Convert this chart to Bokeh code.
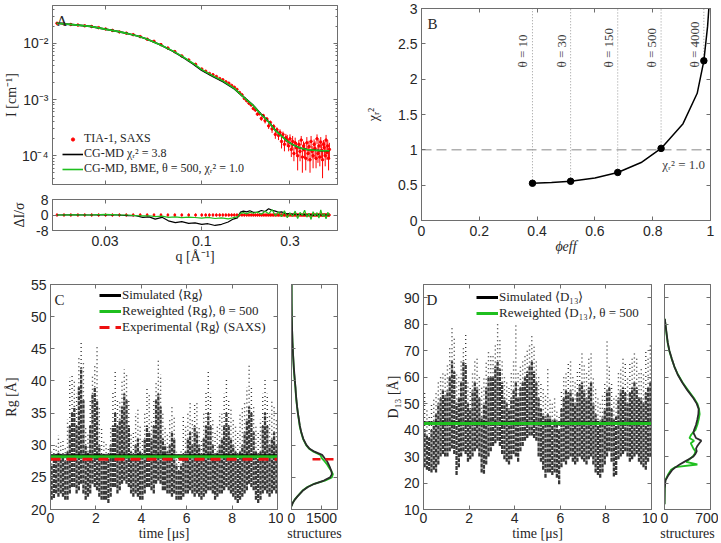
import numpy as np
from bokeh.plotting import figure
from bokeh.models import (FixedTicker, LinearAxis, LogAxis, Range1d, Label, Legend,
                          LegendItem, CustomJSTickFormatter, CustomLabelingPolicy)
from bokeh.layouts import column, row
from bokeh.embed import file_html
from bokeh.resources import INLINE
from bokeh.core.properties import value

# ---------------- Panel A: SAXS data and CG-MD models ----------------
saxs_q = [0.0165, 0.018, 0.0196, 0.0214, 0.0233, 0.0254, 0.0277, 0.0302, 0.0329, 0.0359,
          0.0391, 0.0426, 0.0465, 0.0507, 0.0552, 0.0602, 0.0656, 0.0715, 0.078, 0.085,
          0.0926, 0.1,
          0.105, 0.11, 0.115, 0.12, 0.125, 0.13, 0.135, 0.14, 0.145, 0.15,
          0.155, 0.16, 0.165, 0.17, 0.175, 0.18, 0.185, 0.19, 0.195, 0.2,
          0.205, 0.21, 0.215, 0.22, 0.225, 0.23, 0.235, 0.24, 0.245, 0.25,
          0.255, 0.26, 0.265, 0.27, 0.275, 0.28, 0.285, 0.29, 0.295, 0.30,
          0.305, 0.31, 0.315, 0.32, 0.325, 0.33, 0.335, 0.34, 0.345, 0.35,
          0.355, 0.36, 0.365, 0.37, 0.375, 0.38, 0.385, 0.39, 0.395, 0.40,
          0.405, 0.41, 0.415, 0.42, 0.425, 0.43, 0.435, 0.44, 0.445, 0.45,
          0.455, 0.46, 0.465, 0.47, 0.475, 0.48, 0.485, 0.49]
# intensities in units of 1e-4 cm^-1
saxs_I_e4 = [226, 222, 215, 210, 204, 198, 189, 179, 169, 159,
             151, 142, 131, 118, 108, 94.5, 82, 71, 59.5, 50.5,
             42.2, 34.8,
             31.8, 29.0, 27.5, 25.6, 23.5, 22.4, 20.6, 19.5, 17.8, 16.5,
             15.1, 13.3, 12.1, 10.4, 9.5, 8.6, 8.0, 6.9, 6.5, 5.5,
             5.6, 4.6, 5.2, 4.2, 4.5, 3.4, 3.9, 3.0, 3.3, 2.4,
             2.9, 2.3, 2.6, 1.8, 2.4, 1.6, 2.1, 1.9, 1.5, 2.0,
             1.3, 1.8, 1.1, 1.7, 1.4, 1.0, 1.6, 1.2, 1.9, 0.95,
             1.5, 1.3, 0.9, 1.7, 1.1, 1.45, 0.85, 1.8, 1.2, 1.0,
             1.6, 1.35, 0.9, 2.0, 1.1, 1.5, 0.95, 1.75, 1.25, 0.85,
             1.6, 1.4, 1.0, 1.9, 1.15, 1.5, 0.9, 1.3]
saxs_err_e4 = [2.3, 2.2, 2.2, 2.1, 2.0, 2.0, 1.9, 1.8, 1.7, 1.6,
               1.5, 1.4, 1.3, 1.2, 1.1, 1.0, 0.9, 0.8, 0.7, 0.6,
               0.55, 0.5,
               0.5, 0.5, 0.5, 0.5, 0.45, 0.45, 0.45, 0.45, 0.4, 0.4,
               0.4, 0.4, 0.4, 0.4, 0.4, 0.4, 0.4, 0.4, 0.4, 0.4,
               0.35, 0.4, 0.3, 0.45, 0.35, 0.4, 0.3, 0.45, 0.35, 0.4,
               0.3, 0.4, 0.35, 0.45, 0.3, 0.4, 0.35, 0.45, 0.3, 0.4,
               0.35, 0.45, 0.3, 0.4, 0.35, 0.45, 0.3, 0.4, 0.35, 0.45,
               0.3, 0.4, 0.35, 0.45, 0.3, 0.4, 0.35, 0.45, 0.3, 0.4,
               0.35, 0.45, 0.3, 0.4, 0.35, 0.45, 0.3, 0.4, 0.35, 0.45,
               0.3, 0.4, 0.35, 0.45, 0.3, 0.4, 0.35, 0.4]
model_q = [0.0164, 0.02, 0.025, 0.03, 0.035, 0.04, 0.045, 0.05, 0.06, 0.07,
           0.08, 0.09, 0.1, 0.115, 0.13, 0.15, 0.17, 0.19, 0.21, 0.23,
           0.25, 0.27, 0.29, 0.31, 0.34, 0.37, 0.4, 0.45, 0.49]
model_bme_I = [0.02265, 0.02138, 0.01995, 0.01778, 0.01622, 0.01479, 0.01349, 0.01202, 0.00933, 0.00724,
               0.00562, 0.00437, 0.00339, 0.00263, 0.00214, 0.00158, 0.00107, 0.000776, 0.000537, 0.000398,
               0.000282, 0.000224, 0.000182, 0.000158, 0.000138, 0.000129, 0.000126, 0.000123, 0.000123]
model_cgmd_I = [0.02265, 0.02138, 0.01995, 0.01778, 0.01622, 0.01479, 0.01347, 0.01198, 0.00927, 0.00716,
                0.00552, 0.00427, 0.00330, 0.00256, 0.00208, 0.00155, 0.00108, 0.000785, 0.000543, 0.000402,
                0.000284, 0.000225, 0.000182, 0.000158, 0.000138, 0.000129, 0.000126, 0.000123, 0.000123]
res_q = [0.0165, 0.02, 0.025, 0.03, 0.035, 0.04, 0.044, 0.048, 0.052, 0.056,
         0.061, 0.066, 0.072, 0.078, 0.085, 0.092, 0.1, 0.108, 0.118, 0.128,
         0.139, 0.148, 0.156, 0.162, 0.168, 0.175, 0.182, 0.19, 0.2, 0.21,
         0.22, 0.23, 0.24, 0.25, 0.26, 0.27, 0.28, 0.29, 0.30, 0.31,
         0.32, 0.33, 0.34, 0.35, 0.36, 0.37, 0.38, 0.39, 0.40, 0.41,
         0.42, 0.43, 0.44, 0.45, 0.46, 0.47, 0.48, 0.49]
res_cgmd = [0, 0.1, 0, 0.2, 0, -0.3, -0.4, -1.2, -1.0, -2.1,
            -1.2, -3.0, -3.9, -3.4, -4.3, -4.1, -4.8, -4.5, -5.4, -4.8,
            -3.6, -2.1, -1.5, 1.5, 2.0, 1.6, 2.2, 1.4, 1.4, 2.3,
            1.8, 3.2, 2.4, 2.0, 1.4, 1.6, 1.0, 0.6, 0.8, 0.3,
            0.5, 0.2, 0.4, 0.0, 0.3, -0.2, 0.4, 0.1, -0.3, 0.2,
            -0.1, 0.3, 0.0, -0.2, 0.2, -0.1, 0.1, 0.0]
res_bme = [0, 0.1, 0, 0.3, 0.1, 0, -0.3, -0.5, -0.4, -0.8,
           -0.6, -1.2, -1.0, -1.4, -1.1, -1.3, -1.6, -1.2, -1.8, -1.5,
           -2.0, -1.4, -1.0, 0.8, 1.2, 0.6, 1.4, 0.9, 1.5, 0.4,
           1.9, 0.6, 2.8, -0.4, 1.6, -0.9, 2.2, -1.4, 1.1, -0.6,
           2.0, -1.8, 1.3, -0.2, 2.5, -1.1, 0.9, -2.3, 1.7, -0.5,
           1.2, -1.6, 2.6, -0.8, 0.7, -2.0, 1.4, -0.3]

# ---------------- Panel B: chi2 vs phi_eff ----------------
theta_values = [10, 30, 150, 500, 4000]
phi_eff_pts = [0.384, 0.516, 0.679, 0.829, 0.977]
chi2_pts = [0.527, 0.555, 0.68, 1.02, 2.26]
phi_eff_curve = [0.384, 0.45, 0.516, 0.6, 0.679, 0.76, 0.829, 0.905, 0.954, 0.977, 0.99, 0.996]
chi2_curve = [0.527, 0.538, 0.555, 0.6, 0.68, 0.82, 1.02, 1.37, 1.80, 2.26, 2.75, 3.1]
chi2_target = 1.0

# ---------------- Panel C: Rg time series (0.1 us bins) ----------------
t_bins = [round(0.05 + 0.1 * i, 2) for i in range(100)]
rg_low = [21.5, 21.8, 22.5, 22, 22.5, 22, 21.5, 21.5, 22.5, 23.5,
          23.5, 22.5, 23, 24, 22.5, 21.5, 22, 22.5, 24, 23.5,
          23, 22, 21.5, 21.5, 21.5, 21, 22, 23.5, 23.5, 22.5,
          23, 24, 24.5, 24, 23.5, 22.5, 22, 22.5, 22, 21.5,
          21.5, 22.5, 23.5, 23.5, 23, 22.5, 24, 24.5, 24, 23,
          23, 22.5, 22.5, 22, 22.5, 21.5, 21.5, 21.5, 22, 22.5,
          22.5, 23, 22.5, 22, 22.5, 22, 21.5, 22, 22.5, 23,
          23, 22.5, 21.5, 22, 22.5, 22.5, 23, 23.5, 23, 22.5,
          22, 21.5, 21, 21.5, 22, 22.5, 23, 24, 23.5, 23,
          21.5, 21, 21.5, 22.5, 23, 22.5, 22, 22.5, 23, 22.5]
rg_high = [27, 28, 28.5, 29, 28.5, 28, 27.5, 29, 33, 35,
           36, 33, 39, 42, 37, 30, 29, 33, 38, 39,
           37, 30, 28, 28.5, 27.5, 28, 30, 33, 35, 33,
           34, 36, 38, 37, 33, 29, 28, 30, 31, 29,
           28, 31, 33, 32, 31, 33, 37, 38, 36, 31,
           30, 29, 30, 32, 31, 27, 26, 27, 28, 29,
           31, 32, 30, 33, 32, 30, 28, 31, 33, 35,
           33, 30, 28, 29, 30, 31, 33, 35, 33, 31,
           30, 29, 28, 29, 30, 32, 34, 36, 35, 32,
           29, 28, 29, 33, 35, 33, 30, 31, 32, 30]
rg_peak = [29, 30.5, 30, 31.5, 30.5, 31, 30, 34, 40.5, 41,
           40, 38, 44, 46, 43, 33, 32, 37, 41, 42.5,
           45.3, 36, 33, 31, 30.5, 29.5, 33, 38.5, 41.4, 37,
           37, 40, 41.8, 41, 37, 32, 32, 35, 36, 33,
           31, 35, 39, 38, 34, 37, 40, 43.4, 41, 35,
           33, 32, 34, 36, 34.3, 29, 28.5, 29.5, 34.5, 33,
           35, 36.8, 34, 36.5, 37, 33, 31, 35, 38.5, 41.4,
           38, 34, 32, 33, 35, 35, 38, 40.6, 37, 36,
           34, 33, 32, 35, 36, 37, 39, 42.8, 39, 36,
           33, 32, 34, 38, 40.3, 38, 35, 37, 36, 34]
rg_sim_mean = 28.35
rg_rew_mean = 28.2
rg_exp = 27.8
hist_rg = [20.5, 21, 21.5, 22, 22.5, 23, 23.5, 24, 24.5, 25, 25.5, 26, 26.5, 27, 27.5, 28, 28.5, 29, 29.5,
           30, 31, 32, 33, 34, 35, 36, 37, 38, 39, 40, 42, 44, 46, 48, 50, 52, 55]
hist_rg_sim = [0, 60, 160, 290, 440, 590, 820, 1150, 1620, 1930, 2020, 1990, 1930, 1860, 1780, 1650, 1530, 1150, 890,
               750, 590, 490, 420, 370, 320, 280, 250, 220, 200, 170, 120, 80, 50, 30, 15, 8, 3]
hist_rg_rew = [0, 57, 146, 282, 428, 575, 794, 1130, 1670, 2020, 2070, 1990, 1880, 1780, 1650, 1515, 1440, 1100, 867,
               732, 575, 481, 408, 366, 319, 277, 240, 214, 193, 162, 110, 82, 50, 29, 15, 7, 3]

# ---------------- Panel D: D13 time series (0.1 us bins) ----------------
d13_low = [26, 25, 24.5, 24, 25, 24, 27, 30, 31, 30,
           30, 32, 33, 31, 23, 26, 30, 32, 31, 28,
           29, 30, 32, 33, 30, 24, 23.5, 27, 30, 32,
           34, 35, 36, 34, 31, 29, 28, 27, 29, 31,
           30, 28, 32, 34, 36, 37, 38, 38, 37, 36,
           30, 28, 25, 22, 24, 24, 23, 24, 22, 19.5,
           26, 28, 27, 29, 30, 28, 27, 28, 30, 29,
           28, 27, 29, 30, 27, 24, 23, 22, 24, 27,
           30, 32, 28, 22.5, 23, 29, 30, 31, 32, 30,
           28, 29, 30, 31, 28, 27, 26, 25, 28, 30]
d13_high = [40, 38, 37, 40, 42, 46, 50, 52, 55, 53,
            55, 60, 66, 62, 50, 52, 58, 66, 65, 50,
            48, 55, 58, 56, 52, 45, 50, 56, 60, 60,
            60, 64, 66, 63, 58, 52, 50, 48, 52, 55,
            58, 52, 56, 58, 60, 62, 64, 66, 62, 58,
            52, 48, 46, 45, 46, 45, 42, 44, 42, 40,
            48, 52, 55, 54, 55, 52, 50, 54, 57, 58,
            55, 52, 56, 58, 50, 46, 44, 42, 45, 48,
            55, 56, 48, 44, 45, 52, 55, 56, 54, 50,
            54, 56, 58, 56, 52, 52, 50, 54, 56, 58]
d13_peak = [55, 48, 45, 50, 52, 55, 58, 60, 62, 62,
            65, 71, 79.3, 75, 62, 60, 66, 72, 76.7, 58,
            57, 62, 66, 67, 60, 56, 60, 66, 70, 68,
            68, 72, 80.8, 74, 66, 60, 58, 56, 62, 66,
            80.5, 62, 64, 67, 68, 70, 73, 75.5, 72, 66,
            60, 58, 56, 54, 64, 52, 50, 52, 48, 46,
            55, 60, 62, 66, 67, 60, 58, 63, 66, 70,
            65, 62, 68, 70, 60, 56, 52, 50, 54, 58,
            73.6, 64, 58, 52, 54, 62, 64, 68, 66, 60,
            66, 68, 70, 67, 62, 64, 62, 70.2, 68, 73]
d13_sim_mean = 42.7
d13_rew_mean = 42.5
hist_d13 = [12, 18, 21, 23, 25, 26, 27, 28, 29, 30, 31, 32, 33, 34, 35, 36, 37, 38, 39, 40,
            42, 44, 46, 48, 50, 52, 55, 58, 61, 64, 67, 70, 73, 76, 79, 82]
hist_d13_sim = [0, 3, 15, 60, 120, 170, 230, 300, 370, 440, 470, 490, 480, 500, 530, 560, 480, 460, 440, 450,
                480, 500, 515, 520, 490, 440, 350, 270, 200, 150, 110, 75, 50, 35, 20, 5]
hist_d13_rew = [0, 3, 12, 50, 100, 160, 500, 330, 380, 430, 460, 470, 440, 420, 400, 450, 380, 400, 430, 470,
                500, 520, 535, 525, 500, 450, 360, 275, 205, 150, 108, 72, 48, 32, 18, 5]

# ---------------- styling helpers ----------------
AXC = "#6e6e6e"
TXT = "#262626"
SANS = "Liberation Sans"
SERIF = "Liberation Serif"
GREEN = "#1fbf1f"
TICK_FS = "14px"
LABEL_FS = "14px"
DOTS = "#383838"

NO_LABELS = CustomLabelingPolicy(code="""
for (let i = 0; i < indices.size; i++) { indices.unset(i) }
return indices
""")


def setup_axis(ax, ticks, minor=None, show_labels=True, overrides=None, standoff=4,
               label=None, label_standoff=0, label_style="normal"):
    ax.ticker = FixedTicker(ticks=ticks, minor_ticks=minor or [])
    ax.formatter = CustomJSTickFormatter(code="return String(tick);")
    ax.axis_line_color = AXC
    ax.major_tick_line_color = AXC
    ax.minor_tick_line_color = AXC
    ax.major_tick_in = 4
    ax.major_tick_out = 0
    ax.minor_tick_in = 2
    ax.minor_tick_out = 0
    ax.major_label_text_font = SANS
    ax.major_label_text_font_size = TICK_FS
    ax.major_label_text_color = TXT
    ax.major_label_standoff = standoff
    if overrides:
        ax.major_label_overrides = overrides
    if not show_labels:
        ax.major_label_text_font_size = "0px"
        ax.major_label_standoff = 0
        ax.major_label_policy = NO_LABELS
    if label:
        ax.axis_label = label
        ax.axis_label_text_font = SERIF
        ax.axis_label_text_font_size = LABEL_FS
        ax.axis_label_text_font_style = label_style
        ax.axis_label_text_color = TXT
        ax.axis_label_standoff = label_standoff
    else:
        ax.axis_label = None


def base_fig(xr, yr, w, h, bl, br, bt, bb, xt="linear", yt="linear"):
    p = figure(x_range=xr, y_range=yr, x_axis_type=xt, y_axis_type=yt,
               width=w, height=h,
               min_border_left=bl, min_border_right=br, min_border_top=bt, min_border_bottom=bb,
               output_backend="svg", toolbar_location=None)
    p.xgrid.visible = False
    p.ygrid.visible = False
    p.outline_line_color = AXC
    p.background_fill_color = "white"
    p.border_fill_color = "white"
    return p


def add_axes(p, xt, yt, xticks, yticks, xminor=None, yminor=None,
             xlabels=True, ylabels=True, yover=None, xstand=4, ystand=4,
             xlab=None, ylab=None, xlab_st=0, ylab_st=0, xlab_style="normal"):
    setup_axis(p.below[0], xticks, xminor, xlabels, standoff=xstand,
               label=xlab, label_standoff=xlab_st, label_style=xlab_style)
    setup_axis(p.left[0], yticks, yminor, ylabels, yover, standoff=ystand,
               label=ylab, label_standoff=ylab_st)
    top = LogAxis() if xt == "log" else LinearAxis()
    right = LogAxis() if yt == "log" else LinearAxis()
    setup_axis(top, xticks, xminor, False)
    setup_axis(right, yticks, yminor, False)
    p.add_layout(top, "above")
    p.add_layout(right, "right")


def lab(p, text, sx, sy, size="15px", align="left", baseline="top"):
    p.add_layout(Label(x=sx, y=sy, x_units="screen", y_units="screen", text=text,
                       text_align=align, text_baseline=baseline,
                       text_font=SERIF, text_font_size=size, text_color=TXT))


def legend(p, items, loc, glyph_w, row_h, size, glyph_h=None):
    lg = Legend(items=items, location=loc, glyph_width=glyph_w, glyph_height=glyph_h or row_h,
                label_height=row_h, label_standoff=1, spacing=0, padding=0, margin=0,
                background_fill_alpha=0, border_line_alpha=0,
                label_text_font=SERIF, label_text_font_size=size, label_text_color=TXT)
    p.add_layout(lg)


HALF_PI = np.pi / 2

# ---------------- Panel A main ----------------
qr = (0.0156, 0.542)
pA = base_fig(Range1d(*qr), Range1d(3.09e-5, 0.0468), 345, 191, 49, 8, 5, 7, "log", "log")
yminorA = [m * 10.0 ** e for e in (-5, -4, -3, -2) for m in range(2, 10)]
add_axes(pA, "log", "log", [0.03, 0.1, 0.3], [1e-4, 1e-3, 1e-2], yminor=yminorA,
         xlabels=False, yover={1e-2: "10⁻²", 1e-3: "10⁻³", 1e-4: "10⁻⁴"},
         ylab="I [cm⁻¹]", ylab_st=0)
I_abs = [v * 1e-4 for v in saxs_I_e4]
I_lo = [(v - e) * 1e-4 for v, e in zip(saxs_I_e4, saxs_err_e4)]
I_hi = [(v + e) * 1e-4 for v, e in zip(saxs_I_e4, saxs_err_e4)]
pA.segment(x0=saxs_q, y0=I_lo, x1=saxs_q, y1=I_hi, line_color="red", line_width=1)
r_saxs = pA.scatter(saxs_q, I_abs, size=2.5, color="red", marker="circle")
r_cg = pA.line(model_q, model_cgmd_I, color="black", line_width=1.6)
r_bme = pA.line(model_q, model_bme_I, color=GREEN, line_width=1.6)
legend(pA, [LegendItem(label="TIA-1, SAXS", renderers=[r_saxs]),
            LegendItem(label="CG-MD χᵣ² = 3.8", renderers=[r_cg]),
            LegendItem(label="CG-MD, BME, θ = 500, χᵣ² = 1.0", renderers=[r_bme])],
       (10, 8), 21, 15, "12px", glyph_h=8)
lab(pA, "A", 4, 172)

# ---------------- Panel A residuals ----------------
pR = base_fig(Range1d(*qr), Range1d(-8, 8), 345, 80, 49, 8, 8, 41, "log", "linear")
add_axes(pR, "log", "linear", [0.03, 0.1, 0.3], [-8, 0, 8], xstand=5,
         xlab="q [Å⁻¹]", ylab="ΔI/σ", xlab_st=0, ylab_st=6)
zero_res = [0.0] * len(saxs_q)
pR.segment(x0=saxs_q, y0=[-0.8] * len(saxs_q), x1=saxs_q, y1=[0.8] * len(saxs_q),
           line_color="red", line_width=1.2)
pR.scatter(saxs_q, zero_res, size=2, color="red")
pR.line(res_q, res_cgmd, color="black", line_width=1.2)
pR.line(res_q, res_bme, color=GREEN, line_width=1.2)

# ---------------- Panel B ----------------
pB = base_fig(Range1d(0, 1), Range1d(0, 3), 373, 271, 76, 8, 8, 51)
add_axes(pB, "linear", "linear", [0, 0.2, 0.4, 0.6, 0.8, 1], [0, 0.5, 1, 1.5, 2, 2.5, 3],
         xstand=5, xlab="ϕeff", ylab="χᵣ²", xlab_st=0, ylab_st=14, xlab_style="italic")
pB.line([0, 1], [chi2_target, chi2_target], line_color="#b0b0b0", line_width=1.5, line_dash="10 5")
pB.segment(x0=phi_eff_pts, y0=chi2_pts, x1=phi_eff_pts, y1=[3.0] * len(phi_eff_pts),
           line_color="#9a9a9a", line_width=1, line_dash="1 2")
pB.line(phi_eff_curve, chi2_curve, line_color="black", line_width=1.5)
pB.scatter(phi_eff_pts, chi2_pts, size=6.5, color="black")
pB.text(x=phi_eff_pts, y=[2.165] * len(phi_eff_pts), text=[f"θ = {t}" for t in theta_values],
        angle=HALF_PI, text_align="left", text_baseline="bottom", x_offset=-2,
        text_font=value(SERIF), text_font_size="13px", text_color="#404040")
pB.add_layout(Label(x=0.907, y=0.79, text="χᵣ² = 1.0", text_align="center", text_baseline="middle",
                    text_font=SERIF, text_font_size="13px", text_color="#404040"))
lab(pB, "B", 6, 205)

# ---------------- Panel C ----------------
BOT_H = 272
pC = base_fig(Range1d(0, 10), Range1d(20, 55), 283, BOT_H, 49, 6, 13, 33)
add_axes(pC, "linear", "linear", [0, 2, 4, 6, 8, 10], [20, 25, 30, 35, 40, 45, 50, 55],
         xstand=3, xlab="time [μs]", ylab="Rg [Å]", ylab_st=9)
pC.segment(x0=t_bins, y0=rg_low, x1=t_bins, y1=rg_high, line_color=DOTS,
           line_width=2.3, line_dash="4 1")
pC.segment(x0=t_bins, y0=rg_high, x1=t_bins, y1=rg_peak, line_color=DOTS,
           line_width=1.4, line_dash="1 3")
rC1 = pC.line([0, 10], [rg_sim_mean] * 2, line_color="black", line_width=3)
rC2 = pC.line([0, 10], [rg_rew_mean] * 2, line_color=GREEN, line_width=3)
rC3 = pC.line([0, 10], [rg_exp] * 2, line_color="#ee1111", line_width=3, line_dash="10 6")
legend(pC, [LegendItem(label="Simulated ⟨Rg⟩", renderers=[rC1]),
            LegendItem(label="Reweighted ⟨Rg⟩, θ = 500", renderers=[rC2]),
            LegendItem(label="Experimental ⟨Rg⟩ (SAXS)", renderers=[rC3])],
       (49, 174), 22, 14, "13px")
lab(pC, "C", 4, 218)

pCh = base_fig(Range1d(0, 2300), Range1d(20, 55), 62, BOT_H, 8, 8, 13, 33)
add_axes(pCh, "linear", "linear", [0, 1500], [20, 25, 30, 35, 40, 45, 50, 55], ylabels=False,
         xstand=3, xlab="structures")
pCh.line(hist_rg_rew, hist_rg, line_color=GREEN, line_width=1.8)
pCh.line(hist_rg_sim, hist_rg, line_color="#2b2b2b", line_width=1.8)
pCh.line([1050, 2300], [rg_exp] * 2, line_color="#ee1111", line_width=2.5, line_dash="8 5")

# ---------------- Panel D ----------------
pD = base_fig(Range1d(0, 10), Range1d(10, 95), 312, BOT_H, 78, 6, 13, 33)
add_axes(pD, "linear", "linear", [0, 2, 4, 6, 8, 10], [10, 20, 30, 40, 50, 60, 70, 80, 90],
         xstand=3, xlab="time [μs]", ylab="D₁₃ [Å]", ylab_st=0)
pD.segment(x0=t_bins, y0=d13_low, x1=t_bins, y1=d13_high, line_color=DOTS,
           line_width=2.3, line_dash="4 1")
pD.segment(x0=t_bins, y0=d13_high, x1=t_bins, y1=d13_peak, line_color=DOTS,
           line_width=1.4, line_dash="1 3")
rD1 = pD.line([0, 10], [d13_sim_mean] * 2, line_color="black", line_width=3)
rD2 = pD.line([0, 10], [d13_rew_mean] * 2, line_color=GREEN, line_width=3)
legend(pD, [LegendItem(label="Simulated ⟨D₁₃⟩", renderers=[rD1]),
            LegendItem(label="Reweighted ⟨D₁₃⟩, θ = 500", renderers=[rD2])],
       (53, 188), 22, 14, "13px")
lab(pD, "D", 3, 218)

pDh = base_fig(Range1d(0, 700), Range1d(10, 95), 61, BOT_H, 7, 8, 13, 33)
add_axes(pDh, "linear", "linear", [0, 700], [10, 20, 30, 40, 50, 60, 70, 80, 90], ylabels=False,
         xstand=3, xlab="structures")
pDh.line(hist_d13_rew, hist_d13, line_color=GREEN, line_width=1.8)
pDh.line(hist_d13_sim, hist_d13, line_color="#2b2b2b", line_width=1.8)

layout = column(row(column(pA, pR), pB), row(pC, pCh, pD, pDh))

with open("out.html", "w") as f:
    f.write(file_html(layout, INLINE))
